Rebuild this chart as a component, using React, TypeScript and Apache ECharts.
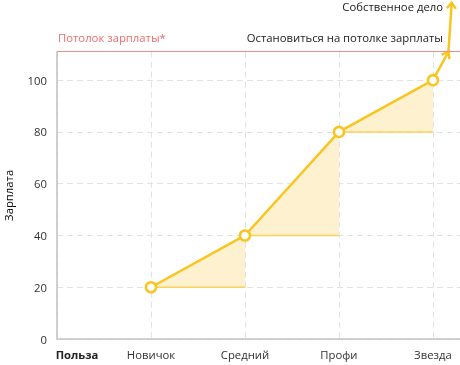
import React, { useEffect, useRef } from 'react';
import * as echarts from 'echarts';

const categories = ['Польза', 'Новичок', 'Средний', 'Профи', 'Звезда'];
const salary = [20, 40, 80, 100]; // Новичок, Средний, Профи, Звезда
const yTicks = [0, 20, 40, 60, 80, 100];
const ceiling = 111;
const ceilingLeftLabel = 'Потолок зарплаты*';
const ceilingRightLabel = 'Остановиться на потолке зарплаты';
const ownBusinessLabel = 'Собственное дело';
const yAxisName = 'Зарплата';
const arrowPath: number[][] = [[4, 100], [4.165, 111], [4.2, 130]];

const YELLOW = '#f9c520';
const FONT = "'Open Sans', 'Noto Sans', sans-serif";
const FS = 11.3;

export default function App() {
  const ref = useRef<HTMLDivElement>(null);
  useEffect(() => {
    if (!ref.current) return;
    const chart = echarts.init(ref.current, undefined, { renderer: 'svg' });
    const lineData = salary.map((v, i) => [i + 1, v]);
    const steps: number[][] = [];
    for (let i = 0; i < salary.length - 1; i++) {
      steps.push([i + 1, salary[i], i + 2, salary[i + 1]]);
    }
    const arrows: number[][] = [];
    for (let i = 0; i < arrowPath.length - 1; i++) {
      arrows.push([arrowPath[i][0], arrowPath[i][1], arrowPath[i + 1][0], arrowPath[i + 1][1]]);
    }
    chart.setOption({
      animation: false,
      textStyle: { fontFamily: FONT },
      grid: { left: 57, right: -3, top: 51.7, bottom: 26, outerBoundsMode: 'none', containLabel: false },
      xAxis: {
        type: 'value',
        min: 0,
        max: 4.32,
        interval: 1,
        axisLine: { show: true, lineStyle: { color: '#c2c2c2', width: 1.5 } },
        axisTick: { show: false },
        splitLine: { show: true, lineStyle: { color: '#e2e2e2', type: [6, 4], width: 1 } },
        axisLabel: {
          margin: 10,
          fontSize: FS,
          color: '#333',
          fontFamily: FONT,
          formatter: (v: number) => {
            if (Math.abs(v - Math.round(v)) > 1e-6) return '';
            const idx = Math.round(v);
            if (idx === 0) return '{b|' + categories[0] + '}';
            return categories[idx] || '';
          },
          rich: {
            b: { fontWeight: 'bold', fontSize: FS, color: '#222', fontFamily: FONT, padding: [0, 0, 0, 40] },
          },
        },
      },
      yAxis: {
        type: 'value',
        min: 0,
        max: ceiling,
        interval: 20,
        name: yAxisName,
        nameLocation: 'middle',
        nameRotate: 90,
        nameGap: 43,
        nameTextStyle: { fontSize: FS, color: '#000', fontWeight: 500, fontFamily: FONT },
        axisLine: { show: true, lineStyle: { color: '#c2c2c2', width: 1.5 } },
        axisTick: { show: false },
        splitLine: { show: true, lineStyle: { color: '#e2e2e2', type: [6, 4], width: 1 } },
        axisLabel: {
          margin: 10,
          fontSize: FS,
          color: '#333',
          fontFamily: FONT,
          formatter: (v: number) => (yTicks.indexOf(v) >= 0 ? String(v) : ''),
        },
      },
      graphic: [
        {
          type: 'text',
          right: 17,
          top: 1,
          style: { text: ownBusinessLabel, fill: '#222', font: `${FS}px ${FONT}` },
        },
        {
          type: 'text',
          left: 58,
          top: 32,
          style: { text: ceilingLeftLabel, fill: '#f06b6b', font: `${FS}px ${FONT}` },
        },
        {
          type: 'text',
          right: 17,
          top: 32,
          style: { text: ceilingRightLabel, fill: '#222', font: `${FS}px ${FONT}` },
        },
      ],
      series: [
        {
          type: 'custom',
          name: 'steps',
          clip: false,
          z: 1,
          silent: true,
          data: steps,
          encode: { x: [0, 2], y: [1, 3] },
          renderItem: (params: any, api: any) => {
            const p1 = api.coord([api.value(0), api.value(1)]);
            const p2 = api.coord([api.value(2), api.value(3)]);
            const p3 = api.coord([api.value(2), api.value(1)]);
            return {
              type: 'group',
              children: [
                { type: 'polygon', shape: { points: [p1, p2, p3] }, style: { fill: '#fdf1cf' } },
                {
                  type: 'line',
                  shape: { x1: p1[0], y1: p1[1], x2: p3[0], y2: p3[1] },
                  style: { stroke: '#fbd25a', lineWidth: 1.5 },
                },
              ],
            };
          },
        },
        {
          type: 'custom',
          name: 'arrows',
          clip: false,
          z: 2,
          silent: true,
          data: arrows,
          encode: { x: [0, 2], y: [1, 3] },
          renderItem: (params: any, api: any) => {
            const a = api.coord([api.value(0), api.value(1)]);
            const b = api.coord([api.value(2), api.value(3)]);
            const dx = b[0] - a[0];
            const dy = b[1] - a[1];
            const len = Math.sqrt(dx * dx + dy * dy) || 1;
            const ux = dx / len;
            const uy = dy / len;
            const nx = -uy;
            const ny = ux;
            const L = 6;
            const W = 4.5;
            return {
              type: 'group',
              children: [
                {
                  type: 'line',
                  shape: { x1: a[0], y1: a[1], x2: b[0] - ux * 1, y2: b[1] - uy * 1 },
                  style: { stroke: YELLOW, lineWidth: 2.5 },
                },
                {
                  type: 'polyline',
                  shape: {
                    points: [
                      [b[0] - ux * L + nx * W, b[1] - uy * L + ny * W],
                      [b[0], b[1]],
                      [b[0] - ux * L - nx * W, b[1] - uy * L - ny * W],
                    ],
                  },
                  style: { stroke: YELLOW, lineWidth: 2.5, fill: 'none', lineJoin: 'miter' },
                },
              ],
            };
          },
        },
        {
          type: 'line',
          name: 'Зарплата',
          z: 3,
          data: lineData,
          symbol: 'circle',
          symbolSize: 10,
          lineStyle: { color: YELLOW, width: 2.5 },
          itemStyle: { color: '#fff', borderColor: YELLOW, borderWidth: 2.5 },
          markLine: {
            silent: true,
            symbol: 'none',
            label: { show: false },
            data: [
              {
                yAxis: ceiling,
                lineStyle: { color: '#ef8e8e', width: 1, type: 'solid' },
              },
            ],
          },
        },
      ],
    });
    return () => chart.dispose();
  }, []);
  return <div ref={ref} style={{ position: 'fixed', left: 0, top: 0, width: 460, height: 365 }} />;
}
